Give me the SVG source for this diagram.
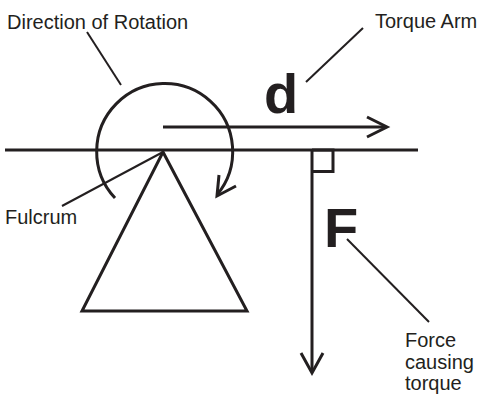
<svg xmlns="http://www.w3.org/2000/svg" width="481" height="396" viewBox="0 0 481 396">
<style>
.ln{stroke:#231f20;fill:none;stroke-width:3;stroke-linecap:butt;stroke-linejoin:miter}
.ld{stroke:#231f20;fill:none;stroke-width:2}
.lbl{font-family:"Liberation Sans",Arial,sans-serif;font-size:20px;fill:#231f20}
.big{font-family:"Liberation Sans",Arial,sans-serif;font-size:56px;font-weight:bold;fill:#231f20}
</style>
<rect width="481" height="396" fill="#ffffff"/>
<g id="beam"><line class="ln" x1="5" y1="150" x2="418" y2="150"/></g>
<g id="fulcrum-shape"><polygon class="ln" points="163,152 247,311 82,311"/></g>
<g id="rotation"><path class="ln" stroke-width="3.5" d="M115,198 A68,68 0 1 1 217,195"/><polyline class="ln" points="219,175 217,196 236,186"/></g>
<g id="torque-arm"><line class="ln" x1="163" y1="127" x2="386" y2="127"/><polyline class="ln" points="367,117 387,127 367,137"/><text class="big" x="264" y="113">d</text></g>
<g id="force"><line class="ln" x1="312" y1="150" x2="312" y2="371"/><polyline class="ln" points="301,353 312,373 323,353"/><polyline class="ln" points="312,150 333,150 333,171.5 312,171.5"/><text class="big" x="324" y="247">F</text></g>
<g id="labels">
<text class="lbl" x="7" y="29" font-size="20.5">Direction of Rotation</text>
<text class="lbl" x="375" y="28">Torque Arm</text>
<text class="lbl" x="5" y="224">Fulcrum</text>
<text class="lbl" x="405" y="347">Force</text>
<text class="lbl" x="405" y="369">causing</text>
<text class="lbl" x="405" y="390">torque</text>
</g>
<g id="connectors">
<line class="ld" x1="87" y1="32" x2="121" y2="85"/>
<line class="ld" x1="363" y1="28" x2="306" y2="82"/>
<line class="ld" x1="62" y1="206" x2="163" y2="152"/>
<line class="ld" x1="347" y1="239" x2="429" y2="322"/>
</g>
</svg>
